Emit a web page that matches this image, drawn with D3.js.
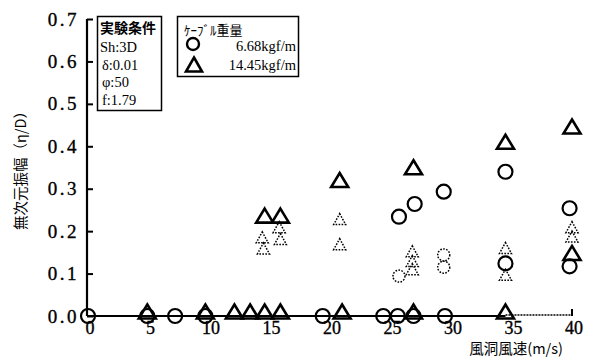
<!DOCTYPE html>
<html>
<head>
<meta charset="utf-8">
<script src="https://cdn.jsdelivr.net/npm/d3@7"></script>
<style>
  body { margin: 0; background: #fff; }
  svg { display: block; }
  .serif { font-family: "Liberation Serif", "DejaVu Serif", serif; fill: #000; }
  .cjk { font-family: "Noto Sans CJK JP", sans-serif; fill: #000; }
</style>
</head>
<body>
<svg id="chart" width="594" height="358"></svg>
<script>
// Axis ticks
const speedTicks = [0, 5, 10, 15, 20, 25, 30, 35, 40];
const ampTicks = [0, 0.1, 0.2, 0.3, 0.4, 0.5, 0.6, 0.7];

// Cable weight 6.68 kgf/m — main response (open circles)
const lightSpeed = [0, 4.9, 7.2, 9.7, 19.4, 24.4, 25.6, 26.9, 29.5, 25.7, 27.0, 29.4, 34.5, 39.8, 34.5, 39.8];
const lightAmp   = [0, 0, 0, 0, 0, 0, 0, 0, 0, 0.234, 0.264, 0.293, 0.34, 0.254, 0.124, 0.117];
// Cable weight 6.68 kgf/m — secondary response (dotted circles)
const lightSpeed2 = [25.7, 29.4, 29.4];
const lightAmp2   = [0.094, 0.144, 0.115];

// Cable weight 14.45 kgf/m — main response (open triangles)
const heavySpeed = [4.9, 9.7, 12.1, 13.4, 14.6, 15.9, 21.0, 26.9, 34.5, 14.6, 15.9, 20.8, 26.9, 34.5, 40, 40];
const heavyAmp   = [0, 0, 0, 0, 0, 0, 0, 0, 0, 0.226, 0.226, 0.31, 0.34, 0.40, 0.436, 0.138];
// Cable weight 14.45 kgf/m — secondary response (dotted triangles)
const heavySpeed2 = [14.4, 14.5, 15.8, 15.9, 20.8, 20.8, 26.8, 26.8, 26.8, 34.5, 34.5, 40, 40];
const heavyAmp2   = [0.183, 0.157, 0.207, 0.179, 0.226, 0.167, 0.15, 0.127, 0.108, 0.158, 0.095, 0.207, 0.185];

const conditions = ["Sh:3D", "δ:0.01", "φ:50", "f:1.79"];
const legendLabels = ["6.68kgf/m", "14.45kgf/m"];

const svg = d3.select("#chart");
const x = d3.scaleLinear().domain([0, 40]).range([88, 572]);
const y = d3.scaleLinear().domain([0, 0.7]).range([316, 19]);

// triangle outline with its base just under the anchor point
function tri(w, up, down) {
  return `M0,${-up} L${w / 2},${down} L${-w / 2},${down} Z`;
}

// Y axis: ticks pointing into the plot
const yAxis = d3.axisRight(y).tickValues(ampTicks).tickSize(6).tickFormat("");
const gy = svg.append("g").attr("transform", `translate(${x(0) - 1},0)`).call(yAxis);
gy.select(".domain").attr("stroke-width", 2.2).attr("d", `M0,${y(0.7)}V${y(0)}`);
gy.selectAll(".tick line").attr("stroke-width", 2);

svg.append("g").selectAll("text").data(ampTicks).join("text")
  .attr("class", "serif")
  .attr("x", 79).attr("y", d => y(d) + 6.5)
  .attr("text-anchor", "end")
  .attr("font-size", 19).attr("letter-spacing", 2.5)
  .attr("stroke", "#000").attr("stroke-width", 0.35)
  .text(d => d3.format(".1f")(d));

// X axis baseline: solid across the data, dotted to the end, tick at 40
svg.append("line").attr("x1", x(0)).attr("x2", x(34.5)).attr("y1", y(0)).attr("y2", y(0))
  .attr("stroke", "#000").attr("stroke-width", 2);
svg.append("line").attr("x1", x(34.5)).attr("x2", x(40)).attr("y1", y(0) - 1).attr("y2", y(0) - 1)
  .attr("stroke", "#000").attr("stroke-width", 1.4).attr("stroke-dasharray", "2,1");
svg.append("line").attr("x1", x(40)).attr("x2", x(40)).attr("y1", y(0)).attr("y2", y(0) - 7)
  .attr("stroke", "#000").attr("stroke-width", 2);

svg.append("g").selectAll("text").data(speedTicks).join("text")
  .attr("class", "serif")
  .attr("x", d => x(d) + 2).attr("y", 334)
  .attr("text-anchor", "middle")
  .attr("font-size", 18)
  .attr("stroke", "#000").attr("stroke-width", 0.35)
  .text(d => d);

// Axis titles
svg.append("text").attr("class", "cjk")
  .attr("x", 563).attr("y", 354).attr("text-anchor", "end")
  .attr("font-size", 14.5).text("風洞風速(m/s)");
svg.append("text").attr("class", "cjk")
  .attr("transform", "translate(26,167) rotate(-90)")
  .attr("text-anchor", "middle").attr("font-size", 14.5)
  .text("無次元振幅（η/D）");

// Secondary responses: small dotted marks
svg.append("g").selectAll("path").data(heavySpeed2.map((s, i) => [s, heavyAmp2[i]])).join("path")
  .attr("transform", d => `translate(${x(d[0])},${y(d[1])})`)
  .attr("d", tri(12, 6.5, 4.5))
  .attr("fill", "none").attr("stroke", "#000").attr("stroke-width", 1.5)
  .attr("stroke-dasharray", "1.6,1.4");
svg.append("g").selectAll("circle").data(lightSpeed2.map((s, i) => [s, lightAmp2[i]])).join("circle")
  .attr("cx", d => x(d[0])).attr("cy", d => y(d[1])).attr("r", 6)
  .attr("fill", "none").attr("stroke", "#000").attr("stroke-width", 1.5)
  .attr("stroke-dasharray", "1.6,1.4");

// Main responses
svg.append("g").selectAll("circle").data(lightSpeed.map((s, i) => [s, lightAmp[i]])).join("circle")
  .attr("cx", d => x(d[0])).attr("cy", d => y(d[1])).attr("r", 7)
  .attr("fill", "none").attr("stroke", "#000").attr("stroke-width", 2.2);
svg.append("g").selectAll("path").data(heavySpeed.map((s, i) => [s, heavyAmp[i]])).join("path")
  .attr("transform", d => `translate(${x(d[0])},${y(d[1])})`)
  .attr("d", tri(17, 11.5, 2.5))
  .attr("fill", "none").attr("stroke", "#000").attr("stroke-width", 2.6)
  .attr("stroke-linejoin", "miter");

// Test conditions box
const box1 = svg.append("g");
box1.append("rect").attr("x", 97.5).attr("y", 16.5).attr("width", 64).attr("height", 94)
  .attr("fill", "#fff").attr("stroke", "#000").attr("stroke-width", 1.5);
box1.append("text").attr("class", "cjk").attr("x", 100).attr("y", 33)
  .attr("font-size", 14).attr("font-weight", "bold").text("実験条件");
box1.selectAll("text.cond").data(conditions).join("text")
  .attr("class", "cond serif")
  .attr("x", (d, i) => i === 0 ? 100 : 102).attr("y", (d, i) => 52 + i * 17.5)
  .attr("font-size", 14.5)
  .text(d => d);

// Legend box
const box2 = svg.append("g");
box2.append("rect").attr("x", 177.5).attr("y", 16.5).attr("width", 121).attr("height", 60)
  .attr("fill", "#fff").attr("stroke", "#000").attr("stroke-width", 1.5);
box2.append("text").attr("class", "cjk").attr("x", 184).attr("y", 35)
  .attr("font-size", 13).text("ｹｰﾌﾞﾙ重量");
box2.append("circle").attr("cx", 193).attr("cy", 44).attr("r", 6)
  .attr("fill", "none").attr("stroke", "#000").attr("stroke-width", 2.4);
box2.append("path").attr("transform", "translate(194,69)")
  .attr("d", tri(16, 11.5, 2.5))
  .attr("fill", "none").attr("stroke", "#000").attr("stroke-width", 2.6);
box2.selectAll("text.lab").data(legendLabels).join("text")
  .attr("class", "lab serif")
  .attr("x", 296).attr("y", (d, i) => 51 + i * 19)
  .attr("text-anchor", "end").attr("font-size", 14.5)
  .text(d => d);
</script>
</body>
</html>
